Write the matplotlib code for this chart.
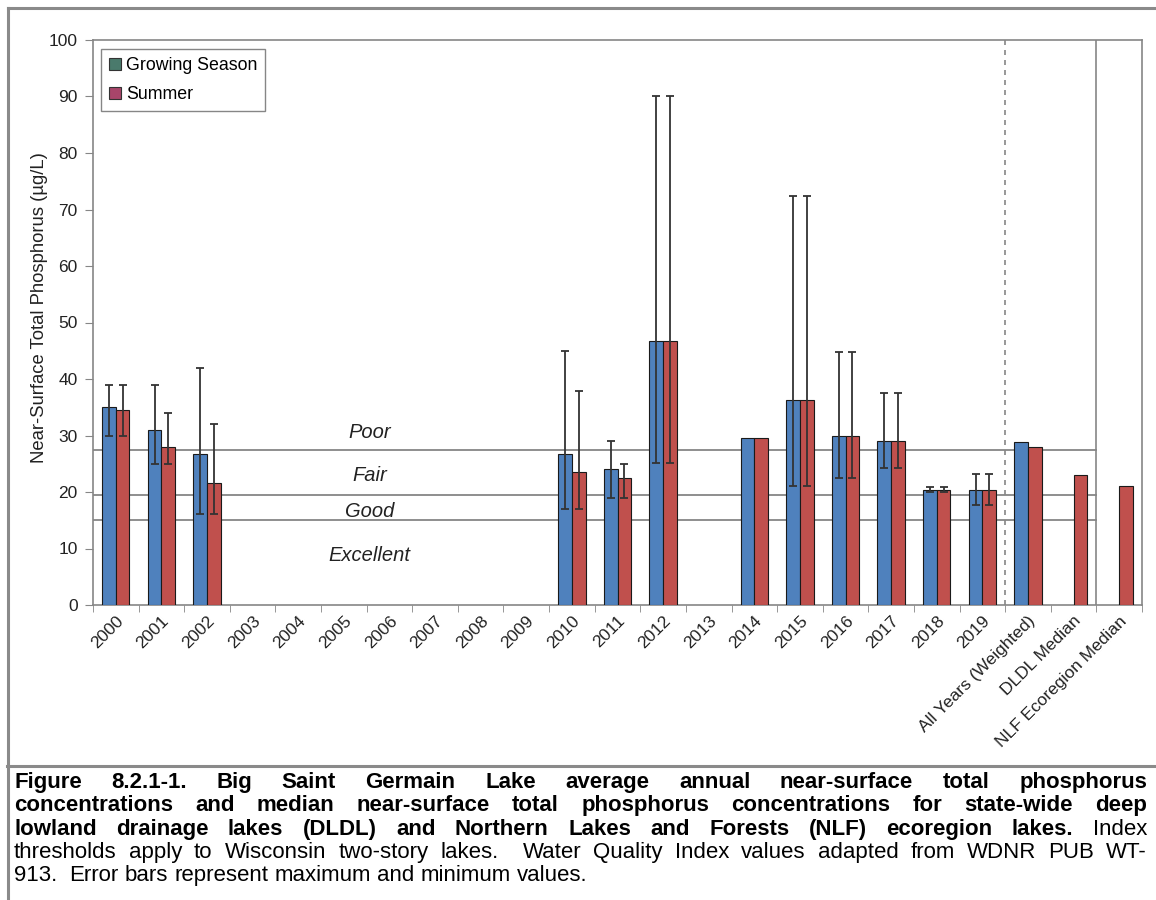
import numpy as np
import matplotlib
matplotlib.use("Agg")
import matplotlib.pyplot as plt
import matplotlib.font_manager as fm
from matplotlib.patches import Patch
from matplotlib.lines import Line2D

categories = ["2000", "2001", "2002", "2003", "2004", "2005", "2006", "2007",
              "2008", "2009", "2010", "2011", "2012", "2013", "2014", "2015",
              "2016", "2017", "2018", "2019", "All Years (Weighted)",
              "DLDL Median", "NLF Ecoregion Median"]
nan = np.nan
growing = [35.1, 30.9, 26.7, nan, nan, nan, nan, nan, nan, nan, 26.7, 24.1,
           46.7, nan, 29.6, 36.2, 30.0, 29.1, 20.3, 20.3, 28.9, nan, nan]
summer = [34.6, 28.0, 21.6, nan, nan, nan, nan, nan, nan, nan, 23.6, 22.4,
          46.7, nan, 29.6, 36.2, 30.0, 29.1, 20.3, 20.3, 28.0, 23.0, 21.0]
growing_max = [39.0, 39.0, 42.0, nan, nan, nan, nan, nan, nan, nan, 45.0, 29.1,
               90.0, nan, nan, 72.4, 44.7, 37.5, 20.9, 23.1, nan, nan, nan]
growing_min = [30.0, 25.0, 16.1, nan, nan, nan, nan, nan, nan, nan, 17.0, 19.0,
               25.1, nan, nan, 21.0, 22.4, 24.2, 20.0, 17.7, nan, nan, nan]
summer_max = [39.0, 34.0, 32.0, nan, nan, nan, nan, nan, nan, nan, 37.9, 25.0,
              90.0, nan, nan, 72.4, 44.7, 37.5, 20.9, 23.1, nan, nan, nan]
summer_min = [30.0, 25.0, 16.1, nan, nan, nan, nan, nan, nan, nan, 17.0, 19.0,
              25.1, nan, nan, 21.0, 22.4, 24.2, 20.0, 17.7, nan, nan, nan]

thresholds = [27.5, 19.5, 15.0]
zone_names = ["Poor", "Fair", "Good", "Excellent"]
zone_label_y = [30.6, 23.0, 16.6, 8.8]

caption_lines = [
    [("Figure 8.2.1-1. Big Saint Germain Lake average annual near-surface total phosphorus", "bold")],
    [("concentrations and median near-surface total phosphorus concentrations for state-wide deep", "bold")],
    [("lowland drainage lakes (DLDL) and Northern Lakes and Forests (NLF) ecoregion lakes.", "bold"),
     ("Index", "normal")],
    [("thresholds apply to Wisconsin two-story lakes.  Water Quality Index values adapted from WDNR PUB WT-", "normal")],
    [("913.  Error bars represent maximum and minimum values.", "normal")],
]

names = {f.name for f in fm.fontManager.ttflist}
base_font = "Liberation Sans" if "Liberation Sans" in names else "DejaVu Sans"
cap_font = "Liberation Sans Narrow" if "Liberation Sans Narrow" in names else base_font
plt.rcParams["font.family"] = [base_font, "DejaVu Sans"]

W, H = 1156, 900
fig = plt.figure(figsize=(W / 100, H / 100), dpi=100)
fig.patch.set_facecolor("white")

ax = fig.add_axes([93 / W, 1 - 605 / H, (1142 - 93) / W, (605 - 40) / H])

blue = "#4F81BD"
red = "#C0504D"
edge = "#1a1a1a"
grey = "#868686"
bw = 0.3

x = np.arange(len(categories))
g = np.array(growing)
s = np.array(summer)

ax.bar(x - bw / 2, g, width=bw, color=blue, edgecolor=edge, linewidth=0.8, zorder=3)
ax.bar(x + bw / 2, s, width=bw, color=red, edgecolor=edge, linewidth=0.8, zorder=3)

def draw_err(xpos, mean, lo, hi):
    mean = np.array(mean); lo = np.array(lo); hi = np.array(hi)
    ok = ~np.isnan(hi)
    ax.errorbar(xpos[ok], mean[ok], yerr=[mean[ok] - lo[ok], hi[ok] - mean[ok]],
                fmt="none", ecolor="#333333", elinewidth=1.3, capsize=3,
                capthick=1.3, zorder=4)

draw_err(x - bw / 2, g, growing_min, growing_max)
draw_err(x + bw / 2, s, summer_min, summer_max)

# water quality thresholds
for t in thresholds:
    ax.plot([-0.5, 21.5], [t, t], color=grey, lw=1.3, zorder=2)
for name, yv in zip(zone_names, zone_label_y):
    ax.text(5.57, yv, name, style="italic", fontsize=14.5, ha="center", va="center",
            color="#222222", zorder=5)

ax.axvline(19.5, color=grey, lw=1.2, ls=(0, (3, 3)), zorder=2)
ax.axvline(21.5, color=grey, lw=1.2, zorder=2)

ax.set_xlim(-0.5, len(categories) - 0.5)
ax.set_ylim(0, 100)
ax.set_yticks(np.arange(0, 101, 10))
ax.tick_params(axis="y", labelsize=12.5, length=6, color=grey, pad=5, labelcolor="#222222")
ax.set_xticks(x)
ax.set_xticklabels(categories, rotation=45, ha="right", va="top",
                   rotation_mode="anchor", fontsize=12.5, color="#222222")
ax.tick_params(axis="x", length=0, pad=6)
ax.set_xticks(np.arange(-0.5, len(categories), 1.0), minor=True)
ax.tick_params(axis="x", which="minor", length=5, color=grey)
for sp in ax.spines.values():
    sp.set_color(grey)
    sp.set_linewidth(1.2)

fig.text(40 / W, 1 - 308 / H, "Near-Surface Total Phosphorus (µg/L)", rotation=90,
         ha="center", va="center", fontsize=13.3, color="#222222")

handles = [Patch(facecolor="#4a7a6c", edgecolor="#333333", lw=0.8),
           Patch(facecolor="#a8456a", edgecolor="#333333", lw=0.8)]
leg = ax.legend(handles, ["Growing Season", "Summer"], loc="upper left",
                bbox_to_anchor=(8 / 1049, 1 - 9 / 565), borderaxespad=0,
                fancybox=False, framealpha=1, edgecolor=grey, fontsize=12.8,
                handlelength=0.7, handleheight=0.7, handletextpad=0.25,
                labelspacing=0.7, borderpad=0.45)
leg.get_frame().set_linewidth(1.0)

# outer frame and caption separator
frame_col = "#8a8a8a"
fig.add_artist(Line2D([8 / W, 1], [1 - 8 / H, 1 - 8 / H], color=frame_col, lw=2.2,
                      transform=fig.transFigure))
fig.add_artist(Line2D([8 / W, 8 / W], [1 - 8 / H, 0], color=frame_col, lw=2.2,
                      transform=fig.transFigure))
fig.add_artist(Line2D([7 / W, 1], [1 - 766 / H, 1 - 766 / H], color=frame_col, lw=2.2,
                      transform=fig.transFigure))

# justified caption
fig.canvas.draw()
renderer = fig.canvas.get_renderer()
left_px, right_px = 14, 1147
baselines = [788, 811, 835, 858, 881]
cap_size = 16

def measure(word, weight):
    t = fig.text(0, 0, word, fontsize=cap_size, fontweight=weight, family=cap_font)
    w = t.get_window_extent(renderer=renderer).width
    t.remove()
    return w

space_w = measure("a a", "normal") - measure("aa", "normal")

for li, line in enumerate(caption_lines):
    words = []
    for text, weight in line:
        for wd in text.split(" "):
            words.append((wd, weight))
    widths = [measure(wd, wt) if wd else 0.0 for wd, wt in words]
    last = li == len(caption_lines) - 1
    if last:
        gap = space_w
    else:
        gap = (right_px - left_px - sum(widths)) / (len(words) - 1)
    xp = left_px
    yb = 1 - baselines[li] / H
    for (wd, wt), wdt in zip(words, widths):
        if wd:
            fig.text(xp / W, yb, wd, fontsize=cap_size, fontweight=wt,
                     family=cap_font, va="baseline", ha="left", color="black")
        xp += wdt + gap

fig.savefig("out.png", dpi=100, facecolor="white")
